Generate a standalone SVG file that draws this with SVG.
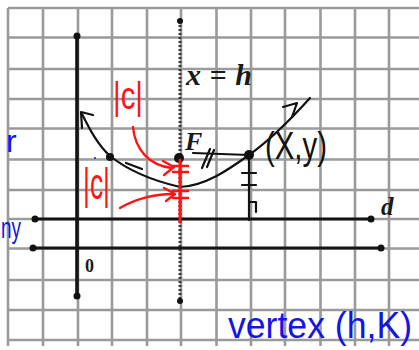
<svg xmlns="http://www.w3.org/2000/svg" width="419" height="350" viewBox="0 0 419 350">
<defs>
<style>
.grid line{stroke:#9a9a9a;stroke-width:2.6}
.ax{stroke:#141414;stroke-width:3;fill:none;stroke-linecap:round}
.dash{stroke:#3a3a3a;stroke-width:3;stroke-dasharray:2 2;fill:none}
.pen{stroke:#111;stroke-width:2.2;fill:none;stroke-linecap:round;stroke-linejoin:round}
.red{stroke:#ff1414;stroke-width:2.4;fill:none;stroke-linecap:round;stroke-linejoin:round}
.dot{fill:#111}
.lbl{font-family:"Liberation Serif","Times New Roman",serif;font-weight:bold;font-style:italic;fill:#1a1a1a}
.hand{font-family:"Liberation Sans",Arial,sans-serif}
.rt{fill:#ff1414}
.bt{fill:#1414e6}
</style>
</defs>
<rect width="419" height="350" fill="#fff"/>
<g class="grid">
<line x1="8" y1="8" x2="419" y2="8"/>
<line x1="8" y1="37.5" x2="419" y2="37.5"/>
<line x1="8" y1="69" x2="419" y2="69"/>
<line x1="8" y1="99" x2="419" y2="99"/>
<line x1="8" y1="128.5" x2="419" y2="128.5"/>
<line x1="8" y1="159.5" x2="419" y2="159.5"/>
<line x1="8" y1="190" x2="419" y2="190"/>
<line x1="8" y1="219" x2="419" y2="219"/>
<line x1="8" y1="248.5" x2="419" y2="248.5"/>
<line x1="8" y1="280" x2="419" y2="280"/>
<line x1="8" y1="310" x2="419" y2="310"/>
<line x1="8" y1="340" x2="419" y2="340"/>
<line x1="8" y1="8" x2="8" y2="346"/>
<line x1="43" y1="8" x2="43" y2="346"/>
<line x1="78" y1="8" x2="78" y2="346"/>
<line x1="112" y1="8" x2="112" y2="346"/>
<line x1="147" y1="8" x2="147" y2="346"/>
<line x1="181" y1="8" x2="181" y2="346"/>
<line x1="216.5" y1="8" x2="216.5" y2="346"/>
<line x1="251" y1="8" x2="251" y2="346"/>
<line x1="285" y1="8" x2="285" y2="346"/>
<line x1="320.5" y1="8" x2="320.5" y2="346"/>
<line x1="355" y1="8" x2="355" y2="346"/>
<line x1="389" y1="8" x2="389" y2="346"/>
</g>
<g id="axes">
<line class="ax" x1="77" y1="36" x2="77" y2="296" style="stroke-width:3.6"/>
<circle class="dot" cx="77" cy="36" r="3.5"/>
<circle class="dot" cx="77" cy="296" r="3.5"/>
<line class="dash" x1="180" y1="21" x2="180" y2="301"/>
<circle class="dot" cx="180" cy="21" r="3"/>
<circle class="dot" cx="180" cy="301" r="3"/>
<line class="ax" x1="35" y1="219" x2="371" y2="219"/>
<circle class="dot" cx="35" cy="219" r="3.5"/>
<circle class="dot" cx="371" cy="219" r="3.5"/>
<line class="ax" x1="33" y1="248" x2="381" y2="248"/>
<circle class="dot" cx="33" cy="248" r="3.5"/>
<circle class="dot" cx="381" cy="248" r="3.5"/>
</g>
<g id="labels">
<text class="lbl" x="186" y="85" font-size="30" textLength="66" lengthAdjust="spacing">x = h</text>
<text class="lbl" x="381" y="215" font-size="25">d</text>
<text class="lbl" x="85" y="272" font-size="18" style="font-style:normal">0</text>
<text class="lbl" x="185" y="150" font-size="26">F</text>
</g>
<g id="parabola">
<path class="pen" d="M82,114 C90,130 98,145 110,156 C125,168 150,180 180,187 C205,186 228,170 249,155 C270,140 292,118 310,98"/>
<path class="pen" d="M93,115 L81,112 L82,128"/>
<path class="pen" d="M283,107 L297,103 L292,117"/>
<path class="pen" d="M126,163 L142,169"/>
</g>
<g id="points">
<circle class="dot" cx="110" cy="157" r="4"/>
<circle class="dot" cx="179" cy="158" r="5"/>
<circle class="dot" cx="249" cy="155" r="5"/>
<circle cx="95" cy="158" r="1" fill="#1414e6"/>
</g>
<g id="connectors">
<path class="pen" d="M193,153 L249,155"/>
<path class="pen" d="M202,168 L210,149 M207,167 L214,150"/>
<path class="pen" d="M249,155 L249,220"/>
<path class="pen" d="M242,173 L256,173 M242,185 L256,185 M249,202 L256,202 L256,212"/>
</g>
<g id="red-marks">
<path class="red" d="M180,160 L180,222" style="stroke-width:3"/>
<path class="red" d="M173,166 L188,166 M173,172 L188,172 M173,191 L188,191 M173,198 L188,198"/>
<path class="red" d="M133,127 C135,150 150,166 172,168"/>
<path class="red" d="M163,161 L174,167 L164,175"/>
<path class="red" d="M120,208 C135,199 155,194 172,194"/>
<path class="red" d="M164,188 L175,194 L166,201"/>
<text class="hand rt" x="113" y="109" font-size="39" textLength="30" lengthAdjust="spacingAndGlyphs">|c|</text>
<text class="hand rt" x="83" y="199" font-size="45" textLength="27" lengthAdjust="spacingAndGlyphs">|c|</text>
</g>
<g id="handwriting">
<text class="hand" x="265" y="159" font-size="38" fill="#111" textLength="62" lengthAdjust="spacingAndGlyphs">(X,y)</text>
<text class="hand bt" x="228" y="338" font-size="36" textLength="184" lengthAdjust="spacingAndGlyphs">vertex (h,K)</text>
<text class="hand bt" x="6" y="152" font-size="32">r</text>
<text class="hand bt" x="1" y="238" font-size="30" textLength="20" lengthAdjust="spacingAndGlyphs">ny</text>
</g>
</svg>
